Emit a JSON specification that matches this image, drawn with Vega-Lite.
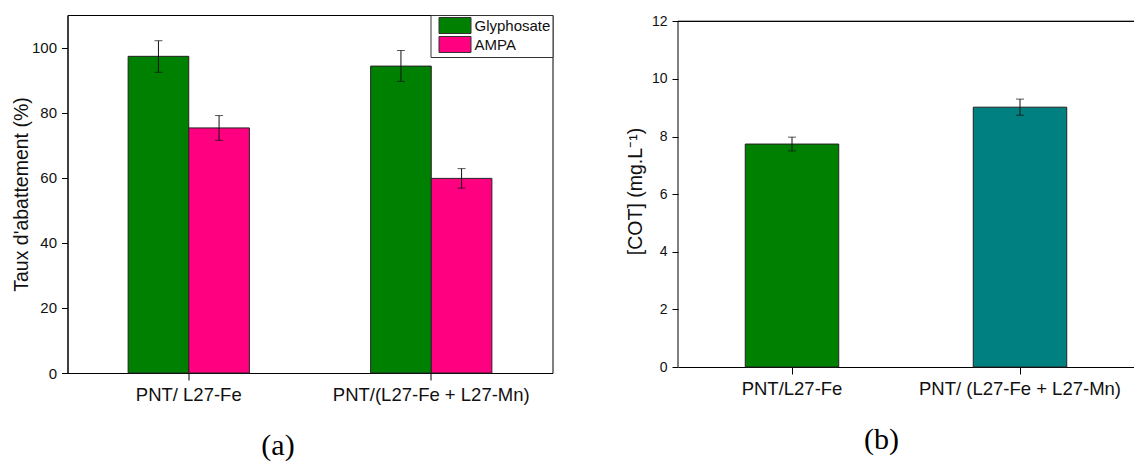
{
  "$schema": "https://vega.github.io/schema/vega-lite/v6.json",
  "padding": {"left": 10.5, "top": 14, "right": 0, "bottom": 2},
  "spacing": 71.5,
  "datasets": {
    "a": [
      {"cat": "PNT/ L27-Fe", "series": "Glyphosate", "value": 97.3, "lo": 92.4, "hi": 102.1},
      {"cat": "PNT/ L27-Fe", "series": "AMPA", "value": 75.3, "lo": 71.5, "hi": 79.1},
      {"cat": "PNT/(L27-Fe + L27-Mn)", "series": "Glyphosate", "value": 94.3, "lo": 89.6, "hi": 99.1},
      {"cat": "PNT/(L27-Fe + L27-Mn)", "series": "AMPA", "value": 59.8, "lo": 56.8, "hi": 62.8}
    ],
    "b": [
      {"cat": "PNT/L27-Fe", "value": 7.74, "lo": 7.5, "hi": 7.98},
      {"cat": "PNT/ (L27-Fe + L27-Mn)", "value": 9.02, "lo": 8.74, "hi": 9.3}
    ]
  },
  "config": {
    "font": "Liberation Sans",
    "axis": {
      "domainColor": "black",
      "tickColor": "black",
      "labelColor": "#111",
      "titleColor": "#111",
      "labelFont": "Liberation Sans",
      "titleFont": "Liberation Sans",
      "titleFontWeight": "normal",
      "grid": false
    }
  },
  "resolve": {"scale": {"color": "independent", "x": "independent", "y": "independent"}, "legend": {"color": "independent"}},
  "hconcat": [
    {
      "width": 485,
      "height": 358,
      "view": {"stroke": "black", "strokeWidth": 1},
      "data": {"name": "a"},
      "encoding": {
        "x": {
          "field": "cat", "type": "nominal", "sort": null,
          "scale": {"paddingInner": 0, "paddingOuter": 0},
          "axis": {
            "title": "(a)", "titleFont": "Liberation Serif", "titleFontSize": 30, "titleColor": "black",
            "titlePadding": 27, "titleX": 210, "titleAlign": "center",
            "labelAngle": 0, "labelFontSize": 18.5, "labelPadding": 5, "tickSize": 7, "labelLimit": 0, "labelOverlap": false
          }
        },
        "xOffset": {"field": "series", "type": "nominal", "sort": ["Glyphosate", "AMPA"], "scale": {"paddingInner": 0, "paddingOuter": 1}}
      },
      "layer": [
        {
          "mark": {"type": "bar", "stroke": "#222", "strokeWidth": 1},
          "encoding": {
            "y": {
              "field": "value", "type": "quantitative",
              "scale": {"domain": [0, 110], "nice": false},
              "axis": {
                "title": "Taux d'abattement (%)", "titleFontSize": 19.5, "titlePadding": 0,
                "values": [0, 10, 20, 30, 40, 50, 60, 70, 80, 90, 100],
                "labelExpr": "datum.value % 20 === 0 ? datum.label : ''",
                "tickSize": {"condition": {"test": "datum.value % 20 === 0", "value": 6}, "value": 3},
                "labelFontSize": 15, "labelPadding": 5
              }
            },
            "color": {
              "field": "series", "type": "nominal",
              "scale": {"domain": ["Glyphosate", "AMPA"], "range": ["#008000", "#FF0080"]},
              "legend": {
                "title": null, "orient": "top-right", "offset": 0,
                "fillColor": "white", "strokeColor": "#333", "padding": 2,
                "symbolType": "M-2,-1H2V1H-2Z", "symbolSize": 256,
                "symbolStrokeColor": "#333", "symbolStrokeWidth": 1, "symbolOpacity": 1,
                "symbolOffset": 14, "labelOffset": 11, "rowPadding": -4.5,
                "labelFontSize": 15, "labelColor": "#111", "labelFont": "Liberation Sans"
              }
            }
          }
        },
        {
          "mark": {"type": "rule", "color": "#111", "strokeWidth": 1},
          "encoding": {"y": {"field": "lo", "type": "quantitative"}, "y2": {"field": "hi"}}
        },
        {
          "mark": {"type": "tick", "color": "#111", "size": 8, "thickness": 1},
          "encoding": {"y": {"field": "lo", "type": "quantitative"}}
        },
        {
          "mark": {"type": "tick", "color": "#111", "size": 8, "thickness": 1},
          "encoding": {"y": {"field": "hi", "type": "quantitative"}}
        }
      ]
    },
    {
      "width": 456,
      "height": 352,
      "view": {"stroke": null},
      "data": {"name": "b"},
      "layer": [
        {
          "mark": {"type": "bar", "stroke": "#222", "strokeWidth": 1, "width": {"band": 0.41}},
          "encoding": {
            "x": {
              "field": "cat", "type": "nominal", "sort": null,
              "scale": {"paddingInner": 0, "paddingOuter": 0},
              "axis": {
                "title": "(b)", "titleFont": "Liberation Serif", "titleFontSize": 30, "titleColor": "black",
                "titlePadding": 27, "titleX": 203, "titleAlign": "center",
                "labelAngle": 0, "labelFontSize": 18.5, "labelPadding": 5, "tickSize": 7, "labelLimit": 0, "labelOverlap": false
              }
            },
            "y": {
              "field": "value", "type": "quantitative",
              "scale": {"domain": [0, 12.22], "nice": false, "zero": true},
              "axis": {
                "title": "[COT] (mg.L⁻¹)", "titleFontSize": 19.5, "titlePadding": 6, "domain": false,
                "values": [0, 1, 2, 3, 4, 5, 6, 7, 8, 9, 10, 11, 12],
                "labelExpr": "datum.value % 2 === 0 ? datum.label : ''",
                "tickSize": {"condition": {"test": "datum.value % 2 === 0", "value": 6}, "value": 3},
                "labelFontSize": 14, "labelPadding": 5
              }
            },
            "color": {
              "field": "cat", "type": "nominal", "sort": null,
              "scale": {"range": ["#008000", "#008080"]},
              "legend": null
            }
          }
        },
        {
          "mark": {"type": "rule", "color": "#111", "strokeWidth": 1},
          "encoding": {
            "x": {"field": "cat", "type": "nominal", "sort": null},
            "y": {"field": "lo", "type": "quantitative"}, "y2": {"field": "hi"}
          }
        },
        {
          "mark": {"type": "tick", "color": "#111", "size": 8, "thickness": 1},
          "encoding": {
            "x": {"field": "cat", "type": "nominal", "sort": null},
            "y": {"field": "lo", "type": "quantitative"}
          }
        },
        {
          "mark": {"type": "tick", "color": "#111", "size": 8, "thickness": 1},
          "encoding": {
            "x": {"field": "cat", "type": "nominal", "sort": null},
            "y": {"field": "hi", "type": "quantitative"}
          }
        },
        {
          "transform": [{"filter": "datum.cat === 'PNT/L27-Fe'"}],
          "mark": {"type": "rule", "color": "black", "strokeWidth": 1},
          "encoding": {
            "x": {"field": "cat", "type": "nominal", "sort": null, "bandPosition": 0},
            "y": {"datum": 0}, "y2": {"datum": 12}
          }
        },
        {
          "mark": {"type": "rule", "color": "black", "strokeWidth": 1},
          "encoding": {"y": {"datum": 12}}
        }
      ]
    }
  ]
}
